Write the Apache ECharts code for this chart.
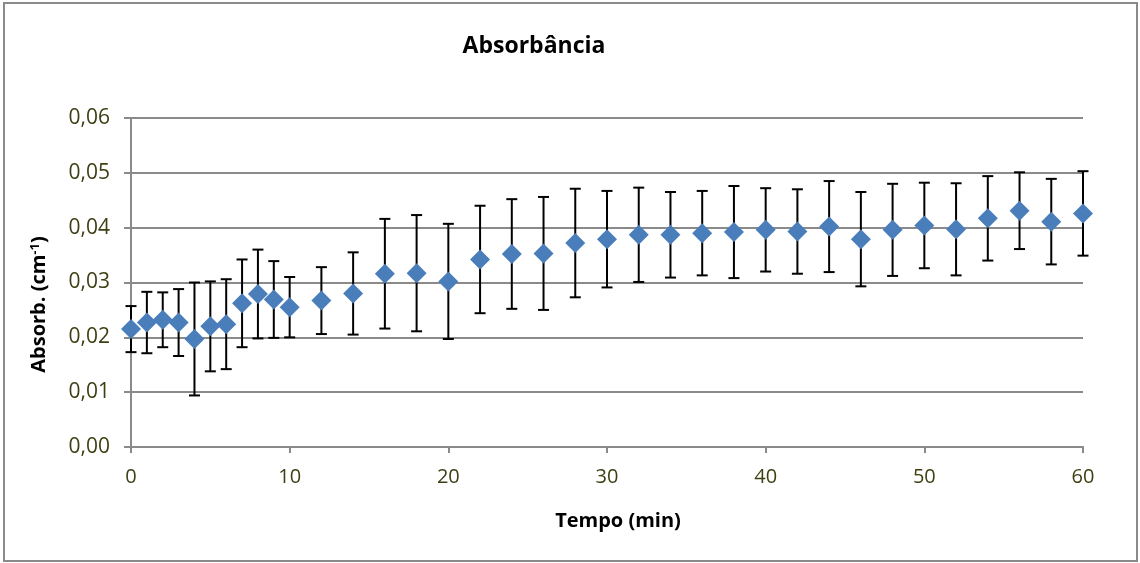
<!DOCTYPE html>
<html>
<head>
<meta charset="utf-8">
<title>Absorbância</title>
<script src="https://cdn.jsdelivr.net/npm/echarts@6/dist/echarts.min.js"></script>
<style>
  html, body { margin: 0; padding: 0; background: #ffffff; }
  #chart { width: 1140px; height: 563px; }
</style>
</head>
<body>
<div id="chart"></div>
<script>
// Tempo de leitura (min)
const tempo = [0, 1, 2, 3, 4, 5, 6, 7, 8, 9, 10, 12, 14, 16, 18, 20, 22, 24, 26, 28, 30,
  32, 34, 36, 38, 40, 42, 44, 46, 48, 50, 52, 54, 56, 58, 60];

// Absorbância média (cm-1)
const absorbancia = [0.0215, 0.0227, 0.0232, 0.0227, 0.0197, 0.0220, 0.0224, 0.0262, 0.0279,
  0.0269, 0.0255, 0.0267, 0.0280, 0.0316, 0.0317, 0.0302, 0.0342, 0.0352, 0.0353, 0.0372,
  0.0379, 0.0387, 0.0387, 0.0390, 0.0392, 0.0396, 0.0393, 0.0402, 0.0379, 0.0396, 0.0404,
  0.0397, 0.0417, 0.0431, 0.0411, 0.0426];

// Desvio (barras de erro simétricas)
const desvio = [0.0042, 0.0056, 0.0050, 0.0061, 0.0103, 0.0082, 0.0082, 0.0080, 0.0081,
  0.0070, 0.0055, 0.0061, 0.0075, 0.0100, 0.0106, 0.0105, 0.0098, 0.0100, 0.0103, 0.0099,
  0.0088, 0.0086, 0.0078, 0.0077, 0.0084, 0.0076, 0.0077, 0.0083, 0.0086, 0.0084, 0.0078,
  0.0084, 0.0077, 0.0070, 0.0078, 0.0077];

const yTicks = [0, 0.01, 0.02, 0.03, 0.04, 0.05, 0.06];

const pontos = tempo.map((t, i) => [t, absorbancia[i]]);
const barras = tempo.map((t, i) => [t, absorbancia[i] - desvio[i], absorbancia[i] + desvio[i]]);

const tickColor = '#3f3f14';
const gridColor = '#8a8a8a';
const fontFam = '"Open Sans", "Noto Sans", sans-serif';

const chart = echarts.init(document.getElementById('chart'), null, { renderer: 'canvas' });

chart.setOption({
  animation: false,
  backgroundColor: '#ffffff',
  title: {
    text: 'Absorbância',
    left: 529,
    top: 30,
    textAlign: 'center',
    textStyle: { fontFamily: fontFam, fontWeight: 'bold', fontSize: 23, color: '#000000' }
  },
  graphic: [{
    type: 'rect',
    shape: { x: 4, y: 3, width: 1133, height: 558 },
    style: { fill: 'none', stroke: '#8a8a8a', lineWidth: 2 },
    silent: true,
    z: -1
  }],
  grid: { left: 131, right: 57, top: 118, bottom: 116, containLabel: false },
  xAxis: {
    type: 'value',
    min: 0,
    max: 60,
    interval: 10,
    name: 'Tempo (min)',
    nameLocation: 'middle',
    nameGap: 64,
    nameTextStyle: {
      fontFamily: fontFam, fontWeight: 'bold', fontSize: 20, color: '#000000',
      padding: [0, 0, 0, 22]
    },
    axisLine: { show: true, onZero: false, lineStyle: { color: gridColor, width: 2 } },
    axisTick: { show: true, length: 6, lineStyle: { color: gridColor, width: 2 } },
    axisLabel: { fontFamily: fontFam, fontSize: 20, color: tickColor, margin: 20 },
    splitLine: { show: false }
  },
  yAxis: {
    type: 'value',
    min: 0,
    max: 0.06,
    interval: 0.01,
    name: '{a|Absorb. (cm}{s|-1}{a|)}',
    nameLocation: 'middle',
    nameGap: 81,
    nameTextStyle: {
      padding: [0, 44, 0, 0],
      rich: {
        a: { fontFamily: fontFam, fontWeight: 'bold', fontSize: 20, color: '#000000' },
        s: { fontFamily: fontFam, fontWeight: 'bold', fontSize: 13, color: '#000000', verticalAlign: 'top', padding: [0, 0, 8, 0] }
      }
    },
    axisLine: { show: true, lineStyle: { color: gridColor, width: 2 } },
    axisTick: { show: true, length: 7, lineStyle: { color: gridColor, width: 2 } },
    axisLabel: {
      fontFamily: fontFam, fontSize: 21, color: tickColor, margin: 21,
      formatter: v => yTicks.includes(+v.toFixed(2)) ? v.toFixed(2).replace('.', ',') : ''
    },
    splitLine: { show: true, lineStyle: { color: gridColor, width: 2 } }
  },
  series: [
    {
      name: 'Desvio',
      type: 'custom',
      z: 2,
      data: barras,
      encode: { x: 0, y: [1, 2] },
      renderItem: function (params, api) {
        const x = api.value(0);
        const lo = api.coord([x, api.value(1)]);
        const hi = api.coord([x, api.value(2)]);
        const cap = 5.5;
        const st = { stroke: '#000000', lineWidth: 2, fill: 'none' };
        return {
          type: 'group',
          children: [
            { type: 'line', shape: { x1: lo[0], y1: lo[1], x2: hi[0], y2: hi[1] }, style: st },
            { type: 'line', shape: { x1: hi[0] - cap, y1: hi[1], x2: hi[0] + cap, y2: hi[1] }, style: st },
            { type: 'line', shape: { x1: lo[0] - cap, y1: lo[1], x2: lo[0] + cap, y2: lo[1] }, style: st }
          ]
        };
      }
    },
    {
      name: 'Absorbância',
      type: 'scatter',
      z: 3,
      symbol: 'diamond',
      symbolSize: [20, 20],
      itemStyle: { color: '#4a7ebb', opacity: 1 },
      data: pontos
    }
  ]
});
</script>
</body>
</html>
